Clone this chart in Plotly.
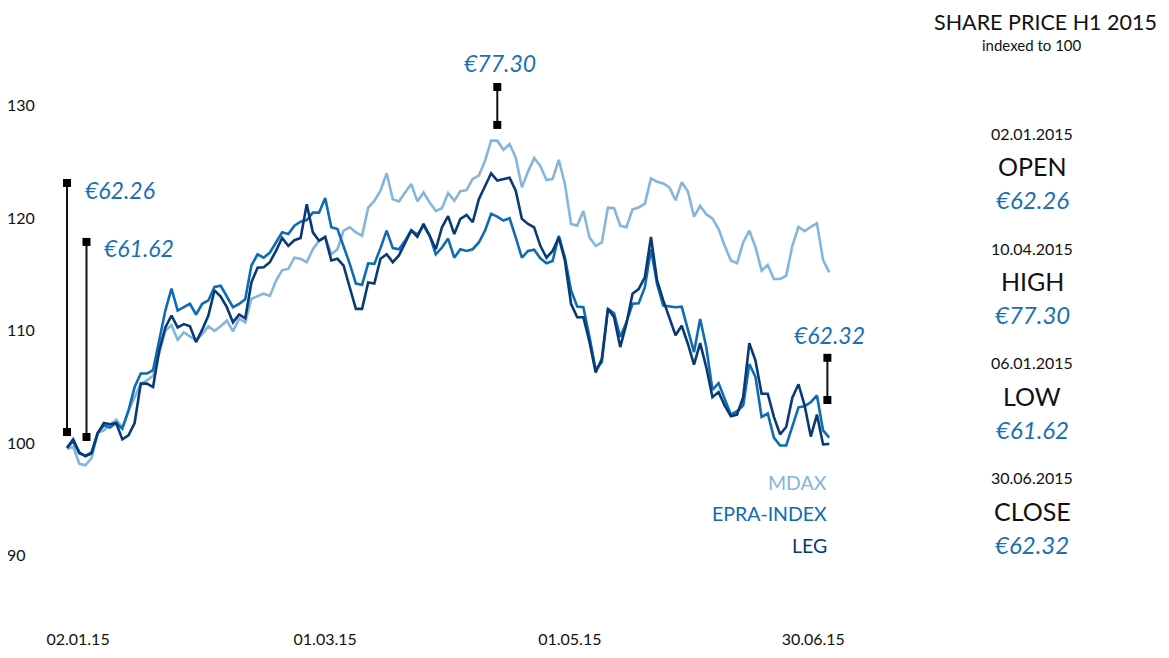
import plotly.graph_objects as go

# ---------------- data (index, 02.01.2015 = 100) ----------------
mdax = [99.5, 99.7, 98.2, 98.05, 98.7, 100.9, 101.15, 101.6, 102.1, 101.4,
        102.9, 104.1, 105.3, 105.6, 106.0, 108.0, 110.0, 110.5, 109.2, 109.85,
        109.5, 109.15, 109.7, 110.4, 110.0, 110.4, 110.9, 109.95, 111.1, 110.75,
        112.85, 113.1, 113.3, 113.1, 114.45, 115.4, 115.5, 116.5, 116.4, 116.1,
        117.25, 118.0, 118.35, 116.8, 117.25, 118.9, 119.2, 118.75, 118.45, 120.95,
        121.55, 122.45, 124.0, 121.7, 121.5, 122.3, 123.05, 121.5, 122.3, 121.4,
        120.65, 120.9, 122.25, 121.55, 122.4, 122.5, 123.5, 123.8, 125.1, 126.9,
        126.9, 126.1, 126.6, 125.4, 122.75, 124.15, 125.35, 124.65, 123.4, 123.5,
        125.2, 123.05, 119.5, 119.35, 120.65, 118.3, 117.55, 117.85, 120.95, 120.9,
        119.35, 119.2, 120.8, 120.95, 121.3, 123.55, 123.25, 123.1, 122.75, 121.6,
        123.2, 122.4, 120.15, 121.1, 120.35, 120.0, 119.05, 117.55, 116.25, 116.0,
        117.85, 118.9, 117.45, 115.35, 115.85, 114.6, 114.6, 114.9, 117.55, 119.25,
        118.85, 119.25, 119.55, 116.3, 115.2]

epra = [99.6, 100.2, 99.1, 98.9, 99.2, 100.95, 101.6, 101.4, 101.8, 101.3,
        102.9, 105.0, 106.2, 106.2, 106.5, 109.1, 111.8, 113.75, 111.8, 112.1,
        112.4, 111.45, 112.4, 112.7, 113.9, 114.0, 113.05, 112.1, 112.4, 112.8,
        115.8, 116.8, 116.5, 116.95, 117.85, 118.75, 118.6, 119.35, 119.7, 119.85,
        120.5, 120.5, 121.8, 119.2, 119.05, 117.55, 115.95, 114.2, 114.1, 116.0,
        115.95, 117.35, 118.9, 117.35, 117.25, 118.0, 118.95, 118.55, 119.35, 118.45,
        116.8, 117.4, 118.2, 116.5, 117.25, 117.1, 117.25, 117.85, 118.9, 120.4,
        120.15, 119.8, 120.0, 118.3, 116.5, 117.1, 117.2, 116.45, 116.0, 116.2,
        118.45, 116.5, 113.6, 112.15, 112.1, 109.45, 106.55, 107.2, 111.95, 111.55,
        109.45, 110.75, 112.4, 112.45, 113.85, 117.25, 114.15, 112.25, 112.15, 112.1,
        112.15, 110.0, 108.1, 111.05, 108.55, 104.75, 105.35, 103.95, 102.55, 102.85,
        103.35, 107.05, 105.9, 102.35, 102.65, 100.5, 99.8, 99.8, 101.45, 103.2,
        103.3, 103.65, 104.25, 101.15, 100.5]

leg = [99.6, 100.35, 99.2, 98.85, 99.1, 100.9, 101.8, 101.7, 101.8, 100.35,
       100.7, 101.8, 105.3, 105.3, 105.0, 108.25, 110.3, 111.35, 110.3, 110.6,
       110.4, 109.0, 110.1, 111.35, 113.6, 113.05, 112.1, 110.75, 111.45, 111.1,
       114.3, 115.6, 115.65, 116.1, 117.1, 118.25, 117.55, 118.05, 118.25, 121.25,
       118.75, 118.0, 118.35, 116.25, 116.4, 115.8, 113.85, 111.95, 111.95, 114.3,
       114.2, 116.4, 116.8, 116.1, 116.7, 117.85, 118.9, 118.35, 119.5, 118.45,
       117.25, 119.2, 120.2, 118.6, 119.95, 120.3, 119.65, 121.7, 122.8, 124.0,
       123.35, 123.45, 123.6, 122.45, 119.95, 119.5, 119.2, 117.55, 116.5, 117.1,
       118.3, 116.25, 112.4, 111.2, 111.2, 109.0, 106.3, 107.5, 111.95, 111.2,
       108.55, 110.6, 113.3, 113.7, 114.75, 118.35, 114.45, 112.7, 111.2, 109.6,
       110.45, 108.85, 107.0, 108.9, 106.75, 104.1, 104.55, 103.35, 102.4, 102.55,
       104.1, 108.9, 107.35, 104.4, 104.4, 102.35, 100.8, 101.45, 104.05, 105.25,
       103.35, 100.6, 102.55, 99.9, 99.95]

series_names = ["MDAX", "EPRA-INDEX", "LEG"]
x_tick_labels = ["02.01.15", "01.03.15", "01.05.15", "30.06.15"]
y_ticks = [90, 100, 110, 120, 130]

# key figures panel
kf_dates = ["02.01.2015", "10.04.2015", "06.01.2015", "30.06.2015"]
kf_labels = ["OPEN", "HIGH", "LOW", "CLOSE"]
kf_prices = ["€62.26", "€77.30", "€61.62", "€62.32"]

# marker bars (x in trading-day index, y range in index points)
bar_x = [0, 3.17, 70, 123.7]
bar_y0 = [101.0, 100.56, 128.3, 103.85]
bar_y1 = [123.14, 117.9, 131.67, 107.6]

# ---------------- styling ----------------
OFF = 8                 # page body margin in the browser
W, H = 1169 - 2 * OFF, 658 - 2 * OFF
C_MDAX = "#84b5db"
C_EPRA = "#0d6cb3"
C_LEG = "#0a3a76"
C_PRICE = "#1a70b6"
FONT = "Lato"

n = len(leg)
xs = list(range(n))

fig = go.Figure()
for name, vals, col in [("MDAX", mdax, C_MDAX), ("EPRA-INDEX", epra, C_EPRA), ("LEG", leg, C_LEG)]:
    fig.add_trace(go.Scatter(x=xs, y=vals, mode="lines", name=name,
                             line=dict(color=col, width=2.6), hoverinfo="skip"))

for bx, b0, b1 in zip(bar_x, bar_y0, bar_y1):
    fig.add_trace(go.Scatter(x=[bx, bx], y=[b0, b1], mode="lines+markers",
                             line=dict(color="#111111", width=2),
                             marker=dict(symbol="square", size=8, color="#000000"),
                             showlegend=False, hoverinfo="skip"))

# plot area geometry (page pixels -> figure pixels)
PH = 620 - OFF
B = H - PH
px_per_day = 6.147
x0_px = 67 - OFF
xr = [-x0_px / px_per_day, (n - 1) + (W - (x0_px + px_per_day * (n - 1))) / px_per_day]
px_per_pt = 11.25
y100_px = 443.3 - OFF
yr = [100 - (PH - y100_px) / px_per_pt, 100 + y100_px / px_per_pt]


def xp(p):
    return (p - OFF) / W


def yp(p):
    return (PH - (p - OFF)) / PH


ann = []
# price labels near bars
price_pos = [(2.6, 122.5, "left"), (70.4, 133.8, "center"), (5.7, 117.4, "left"), (124.1, 109.6, "center")]
for (ax_, ay_, anc), txt in zip(price_pos, kf_prices):
    ann.append(dict(x=ax_, y=ay_, xref="x", yref="y", text=txt, showarrow=False,
                    xanchor=anc, yanchor="middle",
                    font=dict(family=FONT, size=23, color=C_PRICE, style="italic")))

# series labels
for i, (name, col) in enumerate(zip(series_names, [C_MDAX, C_EPRA, C_LEG])):
    ann.append(dict(x=xp(829), y=yp(482 + 31.5 * i), xref="paper", yref="paper", text=name,
                    showarrow=False, xanchor="right", yanchor="middle",
                    font=dict(family=FONT, size=19.5, color=col)))

# title (top-anchored at the top edge of the figure)
ann.append(dict(x=xp(1158), y=yp(OFF), xref="paper", yref="paper", text="SHARE PRICE H1 2015",
                showarrow=False, xanchor="right", yanchor="top", borderpad=0,
                font=dict(family=FONT, size=21.5, color="#111111")))
ann.append(dict(x=xp(1032), y=yp(45), xref="paper", yref="paper", text="indexed to 100",
                showarrow=False, xanchor="center", yanchor="middle", borderpad=0,
                font=dict(family=FONT, size=15, color="#111111")))

# key figure panel
for i, (d, l, p) in enumerate(zip(kf_dates, kf_labels, kf_prices)):
    base = 133 + 115 * i
    ann.append(dict(x=xp(1032), y=yp(base), xref="paper", yref="paper", text=d, showarrow=False,
                    xanchor="center", yanchor="middle", font=dict(family=FONT, size=16, color="#111111")))
    ann.append(dict(x=xp(1032), y=yp(base + 33), xref="paper", yref="paper", text=l, showarrow=False,
                    xanchor="center", yanchor="middle", font=dict(family=FONT, size=25, color="#111111")))
    ann.append(dict(x=xp(1032), y=yp(base + 66), xref="paper", yref="paper", text=p, showarrow=False,
                    xanchor="center", yanchor="middle",
                    font=dict(family=FONT, size=24, color=C_PRICE, style="italic")))

fig.update_layout(
    width=W, height=H,
    margin=dict(l=0, r=0, t=0, b=B),
    paper_bgcolor="white", plot_bgcolor="white",
    showlegend=False,
    annotations=ann,
    xaxis=dict(range=xr, showgrid=False, zeroline=False, showline=False, ticks="",
               tickvals=[1.8, 42.0, 81.8, 121.4], ticktext=x_tick_labels,
               tickfont=dict(family=FONT, size=16, color="#111111"), ticklabelstandoff=8,
               fixedrange=True),
    yaxis=dict(range=yr, showgrid=False, zeroline=False, showline=False, ticks="",
               tickvals=y_ticks, ticktext=[str(v) for v in y_ticks],
               ticklabelposition="inside", ticklabelstandoff=-4,
               tickfont=dict(family=FONT, size=16, color="#111111"), fixedrange=True),
)

fig.write_html("out.html")
